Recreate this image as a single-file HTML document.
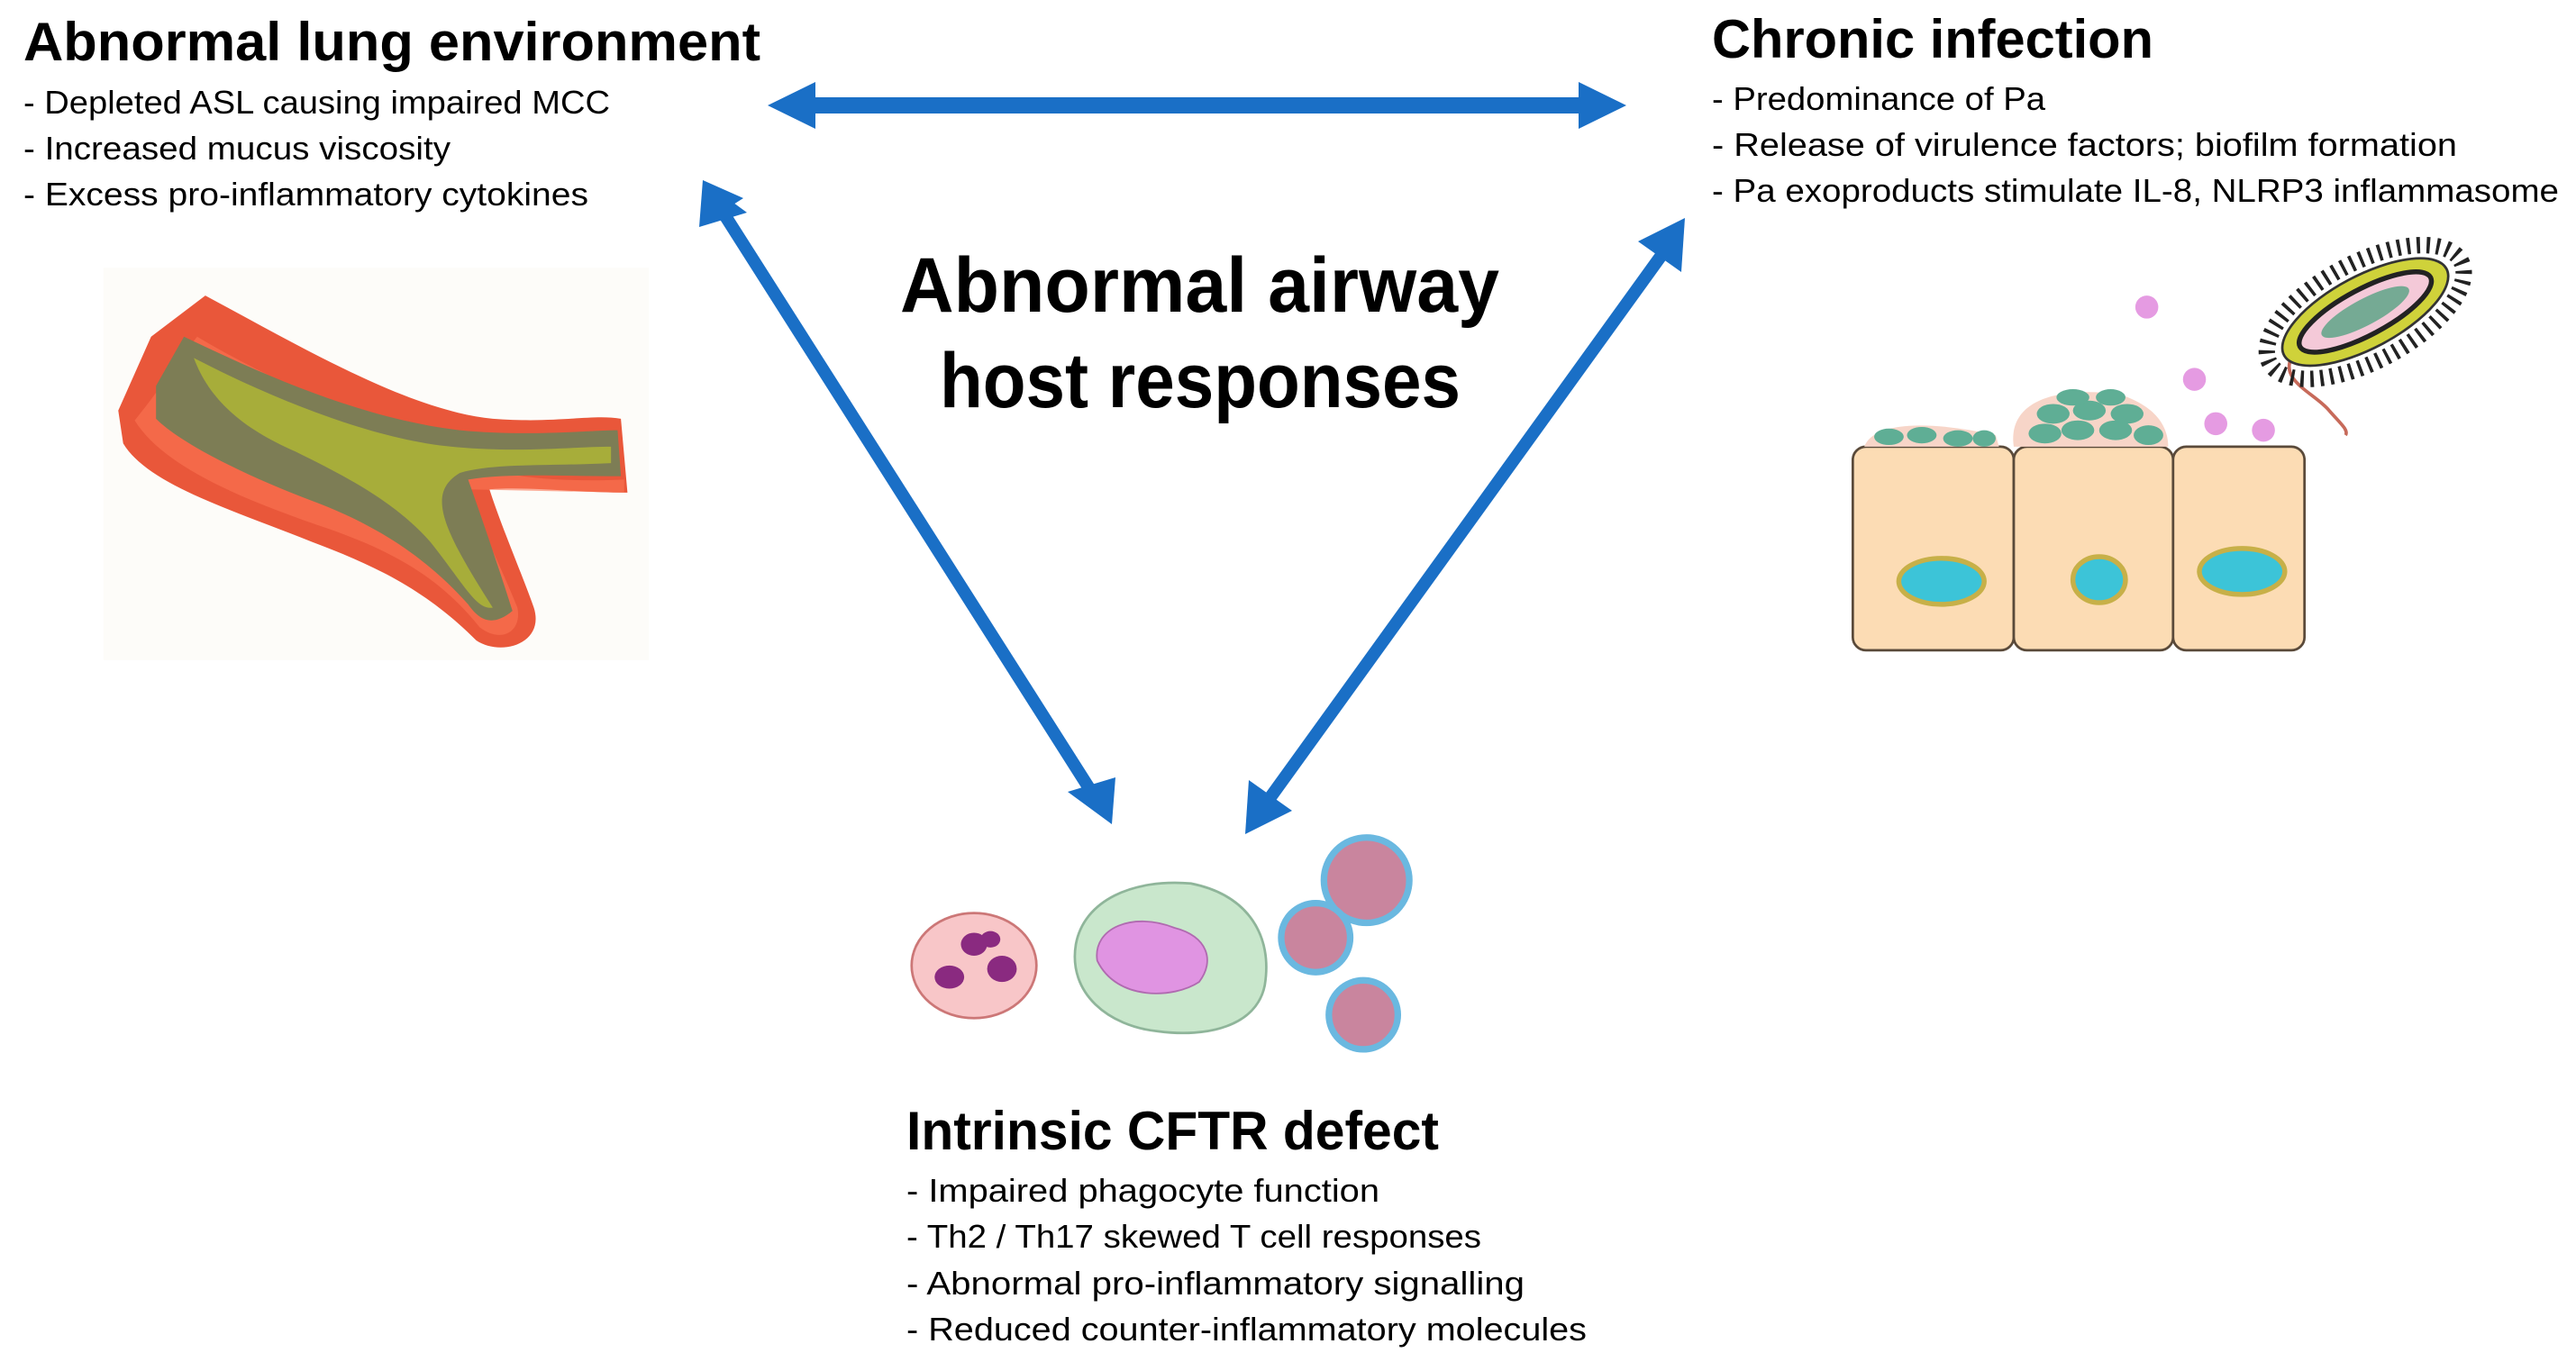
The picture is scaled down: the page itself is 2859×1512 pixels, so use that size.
<!DOCTYPE html>
<html><head><meta charset="utf-8"><style>
html,body{margin:0;padding:0;background:#fff;}
svg{display:block;}
text{font-family:"Liberation Sans",sans-serif;fill:#000;}
.t{font-weight:bold;font-size:60px;}
.b{font-size:36px;}
.c{font-weight:bold;font-size:86px;}
</style></head><body>
<svg width="2859" height="1512" viewBox="0 0 2859 1512" xmlns="http://www.w3.org/2000/svg">
<!-- Texts -->
<text class="t" x="26" y="67" textLength="818" lengthAdjust="spacingAndGlyphs">Abnormal lung environment</text>
<text class="b" x="26" y="126" textLength="651" lengthAdjust="spacingAndGlyphs">- Depleted ASL causing impaired MCC</text>
<text class="b" x="26" y="177" textLength="474" lengthAdjust="spacingAndGlyphs">- Increased mucus viscosity</text>
<text class="b" x="26" y="228" textLength="627" lengthAdjust="spacingAndGlyphs">- Excess pro-inflammatory cytokines</text>

<text class="t" x="1900" y="64" textLength="490" lengthAdjust="spacingAndGlyphs">Chronic infection</text>
<text class="b" x="1900" y="122" textLength="370" lengthAdjust="spacingAndGlyphs">- Predominance of Pa</text>
<text class="b" x="1900" y="173" textLength="827" lengthAdjust="spacingAndGlyphs">- Release of virulence factors; biofilm formation</text>
<text class="b" x="1900" y="224" textLength="940" lengthAdjust="spacingAndGlyphs">- Pa exoproducts stimulate IL-8, NLRP3 inflammasome</text>

<text class="c" x="999" y="346" textLength="665" lengthAdjust="spacingAndGlyphs">Abnormal airway</text>
<text class="c" x="1043" y="452" textLength="578" lengthAdjust="spacingAndGlyphs">host responses</text>

<text class="t" x="1006" y="1276" textLength="591" lengthAdjust="spacingAndGlyphs">Intrinsic CFTR defect</text>
<text class="b" x="1006" y="1334" textLength="525" lengthAdjust="spacingAndGlyphs">- Impaired phagocyte function</text>
<text class="b" x="1006" y="1385" textLength="638" lengthAdjust="spacingAndGlyphs">- Th2 / Th17 skewed T cell responses</text>
<text class="b" x="1006" y="1437" textLength="686" lengthAdjust="spacingAndGlyphs">- Abnormal pro-inflammatory signalling</text>
<text class="b" x="1006" y="1488" textLength="755" lengthAdjust="spacingAndGlyphs">- Reduced counter-inflammatory molecules</text>

<!-- Arrows -->
<g fill="#1a6fc6" stroke="none">
  <rect x="900" y="108" width="860" height="18"/>
  <polygon points="852,117 905,91 905,143"/>
  <polygon points="1805,117 1752,91 1752,143"/>
</g>
<g stroke="#1a6fc6" stroke-width="14" fill="none">
  <line x1="800" y1="232" x2="1212" y2="880"/>
  <line x1="1850" y1="275" x2="1405" y2="892"/>
</g>
<g fill="#1a6fc6">
  <!-- left diag heads, direction (454,715) unit (0.536,0.844) -->
  <polygon points="780,200 825,220 784,246" transform="rotate(0)"/>
  <polygon points="780,200 829,236 776,252"/>
  <polygon points="1234,915 1185,879 1238,863"/>
  <polygon points="1870,242 1866,302 1818,268"/>
  <polygon points="1382,926 1386,866 1434,900"/>
</g>

<!-- Illustrations in preview coordinates -->
<g transform="scale(1.823)">
  <!-- airway -->
  <rect x="63" y="163" width="332" height="239" fill="#fdfcf9"/>
  <path d="M72,250 L92,205 L125,180 C190,215 250,250 300,255 C340,258 360,252 378,255 L382,300 C350,300 320,296 298,298 C305,320 318,350 325,370 C332,392 305,400 290,390 C260,360 230,345 190,330 C140,310 90,295 75,270 Z" fill="#e9573a"/>
  <path d="M82,256 C100,285 150,305 200,322 C240,336 268,352 292,382 C305,392 318,385 315,370 C305,345 292,320 285,298 L380,300 L380,292 C340,294 300,290 280,280 C230,258 170,235 120,205 C105,225 95,240 82,256 Z" fill="#fb7453" opacity="0.6"/>
  <path d="M95,235 L112,205 C160,228 220,255 280,262 C320,266 360,262 376,262 L378,290 C340,290 310,288 285,292 C295,320 305,350 312,372 C300,382 292,378 285,368 C260,340 230,320 190,305 C150,290 110,270 95,255 Z" fill="#7d7d55"/>
  <path d="M118,218 C170,245 230,268 275,272 C315,276 350,272 372,272 L372,282 C330,284 300,282 280,288 C260,300 268,320 300,370 C290,372 282,355 262,330 C240,305 210,290 180,275 C150,262 128,245 118,218 Z" fill="#a7ad3a"/>
  <!-- epithelium -->
  <g stroke="#5a4a3a" stroke-width="1.5">
    <rect x="1128" y="272" width="98" height="124" rx="8" fill="#fcdcb4"/>
    <rect x="1226" y="272" width="97" height="124" rx="8" fill="#fcdcb4"/>
    <rect x="1323" y="272" width="80" height="124" rx="8" fill="#fcdcb4"/>
    <ellipse cx="1182" cy="354" rx="26" ry="14" fill="#3cc4d8" stroke="#c7b048" stroke-width="3"/>
    <ellipse cx="1278" cy="353" rx="16" ry="14" fill="#3cc4d8" stroke="#c7b048" stroke-width="3"/>
    <ellipse cx="1365" cy="348" rx="26" ry="14" fill="#3cc4d8" stroke="#c7b048" stroke-width="3"/>
  </g>
  <path d="M1135,272 C1140,258 1170,255 1215,265 L1217,272 Z" fill="#f7d5c8"/>
  <path d="M1226,272 C1222,245 1250,235 1290,240 C1315,248 1320,262 1320,272 Z" fill="#f7d5c8"/>
  <g fill="#5fae95">
    <ellipse cx="1150" cy="266" rx="9" ry="5"/><ellipse cx="1170" cy="265" rx="9" ry="5"/><ellipse cx="1192" cy="267" rx="9" ry="5"/><ellipse cx="1208" cy="267" rx="7" ry="5"/>
    <ellipse cx="1245" cy="264" rx="10" ry="6"/><ellipse cx="1265" cy="262" rx="10" ry="6"/><ellipse cx="1288" cy="262" rx="10" ry="6"/><ellipse cx="1308" cy="265" rx="9" ry="6"/>
    <ellipse cx="1250" cy="252" rx="10" ry="6"/><ellipse cx="1272" cy="250" rx="10" ry="6"/><ellipse cx="1295" cy="252" rx="10" ry="6"/>
    <ellipse cx="1262" cy="242" rx="10" ry="5"/><ellipse cx="1285" cy="242" rx="9" ry="5"/>
  </g>
  <g fill="#e59be2">
    <circle cx="1307" cy="187" r="7"/><circle cx="1336" cy="231" r="7"/><circle cx="1349" cy="258" r="7"/><circle cx="1378" cy="262" r="7"/>
  </g>
  <path d="M1395,218 C1388,232 1410,240 1418,250 C1425,258 1430,262 1428,265" fill="none" stroke="#c76a5a" stroke-width="2"/>
  <g transform="translate(1440,190) rotate(-28)">
    <ellipse rx="66" ry="30" fill="none" stroke="#222" stroke-width="10" stroke-dasharray="2 4"/>
    <ellipse rx="56" ry="22" fill="#cfd23a" stroke="#333" stroke-width="1.5"/>
    <ellipse rx="45" ry="14" fill="#f4c9d8" stroke="#222" stroke-width="3"/>
    <ellipse rx="30" ry="8" fill="#3f9c78" opacity="0.7"/>
  </g>
  <!-- immune cells -->
  <ellipse cx="593" cy="588" rx="38" ry="32" fill="#f8c6c8" stroke="#c77" stroke-width="1.5"/>
  <g fill="#8a2a80">
    <ellipse cx="578" cy="595" rx="9" ry="7"/><ellipse cx="593" cy="575" rx="8" ry="7"/><ellipse cx="610" cy="590" rx="9" ry="8"/><ellipse cx="603" cy="572" rx="6" ry="5"/>
  </g>
  <path d="M655,575 C660,548 690,535 725,538 C760,545 775,570 770,600 C765,625 735,632 705,628 C675,625 650,605 655,575 Z" fill="#c9e7cc" stroke="#8fb59a" stroke-width="1.5"/>
  <path d="M668,585 C665,565 690,555 715,565 C735,570 740,585 730,598 C715,608 680,610 668,585 Z" fill="#e094e2" stroke="#b06ab0" stroke-width="1"/>
  <g stroke="#6ab8e0" stroke-width="4" fill="#c9859e">
    <circle cx="832" cy="536" r="26"/><circle cx="801" cy="571" r="21"/><circle cx="830" cy="618" r="21"/>
  </g>
</g>
</svg>
</body></html>
